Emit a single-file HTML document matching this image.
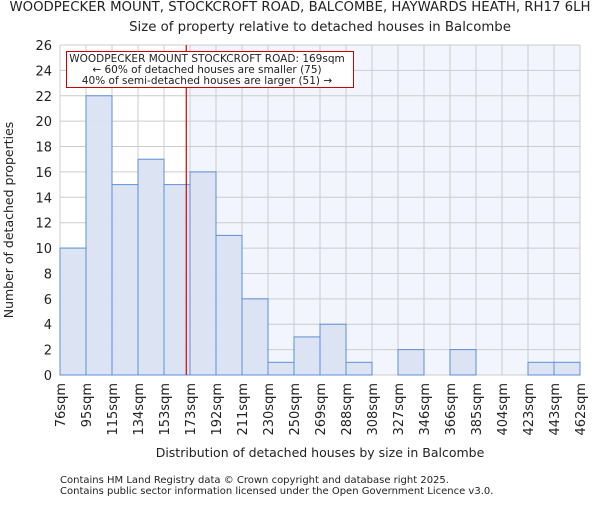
<!DOCTYPE html>
<html><head><meta charset="utf-8"><style>
body{margin:0;background:#fff;font-family:"Liberation Sans","DejaVu Sans",sans-serif}
svg text{font-family:"DejaVu Sans","Liberation Sans",sans-serif;fill:#222}
</style></head><body>
<svg id="c" width="600" height="500" xmlns="http://www.w3.org/2000/svg">
<text x="300" y="11" font-size="13.3" text-anchor="middle">WOODPECKER MOUNT, STOCKCROFT ROAD, BALCOMBE, HAYWARDS HEATH, RH17 6LH</text>
<text x="320" y="31" font-size="13.3" text-anchor="middle">Size of property relative to detached houses in Balcombe</text>
<g id="plot"></g>
<text x="320" y="457" font-size="12.5" text-anchor="middle">Distribution of detached houses by size in Balcombe</text>
<text transform="translate(13,220) rotate(-90)" font-size="12.5" text-anchor="middle">Number of detached properties</text>
<text x="60" y="483" font-size="10" fill="#444">Contains HM Land Registry data © Crown copyright and database right 2025.</text>
<text x="60" y="494" font-size="10" fill="#444">Contains public sector information licensed under the Open Government Licence v3.0.</text>
</svg>
<script>
const binEdges=[76,95,115,134,153,173,192,211,230,250,269,288,308,327,346,366,385,404,423,443,462];
const tickLabels=["76sqm","95sqm","115sqm","134sqm","153sqm","173sqm","192sqm","211sqm","230sqm","250sqm","269sqm","288sqm","308sqm","327sqm","346sqm","366sqm","385sqm","404sqm","423sqm","443sqm","462sqm"];
const counts=[10,22,15,17,15,16,11,6,1,3,4,1,0,2,0,2,0,0,1,1];
const yTicks=[0,2,4,6,8,10,12,14,16,18,20,22,24,26];
const propertySize=169;
const X0=60,X1=580,Y0=375,Y1=45,YMAX=26;
const n=counts.length;
const xi=i=>X0+(X1-X0)*i/n;
const xv=v=>X0+(X1-X0)*(v-binEdges[0])/(binEdges[n]-binEdges[0]);
const y=v=>Y0-(Y0-Y1)*v/YMAX;
const NS="http://www.w3.org/2000/svg";
const g=document.getElementById('plot');
function mk(t,a){const e=document.createElementNS(NS,t);for(const k in a)e.setAttribute(k,a[k]);g.appendChild(e);return e;}
let si=0;for(let i=0;i<n;i++){if(binEdges[i]<=propertySize)si=i;}
const sh=mk('rect',{x:xi(si+1),y:Y1,width:X1-xi(si+1),height:Y0-Y1,fill:'#f2f5fd'});


for(let i=0;i<=n;i++){const l=mk('line',{x1:xi(i),x2:xi(i),y1:Y1,y2:Y0,stroke:'#cccccc'});

}
yTicks.forEach(t=>{const l=mk('line',{x1:X0,x2:X1,y1:y(t),y2:y(t),stroke:'#cccccc'});


const tx=mk('text',{x:X0-8,y:y(t)+5,'font-size':13,'text-anchor':'end'});tx.textContent=t;

});
counts.forEach((c,i)=>{if(c<=0)return;const r=mk('rect',{x:xi(i),y:y(c),width:xi(i+1)-xi(i),height:Y0-y(c),fill:'#dae3f3','fill-opacity':0.95,stroke:'#5b8fd6','stroke-width':1});

});
tickLabels.forEach((t,i)=>{const tx=mk('text',{transform:`translate(${xi(i)+5},${Y0+8}) rotate(-90)`,'font-size':13,'text-anchor':'end'});tx.textContent=t;

});
const rl=mk('line',{x1:xv(propertySize)+1,x2:xv(propertySize)+1,y1:Y1,y2:Y0,stroke:'#dd0000','stroke-width':1.2});


const bx=mk('rect',{x:66.5,y:51.5,width:287,height:36,fill:'#fff',stroke:'#cc0000'});


["WOODPECKER MOUNT STOCKCROFT ROAD: 169sqm","← 60% of detached houses are smaller (75)","40% of semi-detached houses are larger (51) →"].forEach((s,k)=>{
const tx=mk('text',{x:207,y:62+k*11,'font-size':10.5,'text-anchor':'middle'});tx.textContent=s;

});
</script>
</body></html>
